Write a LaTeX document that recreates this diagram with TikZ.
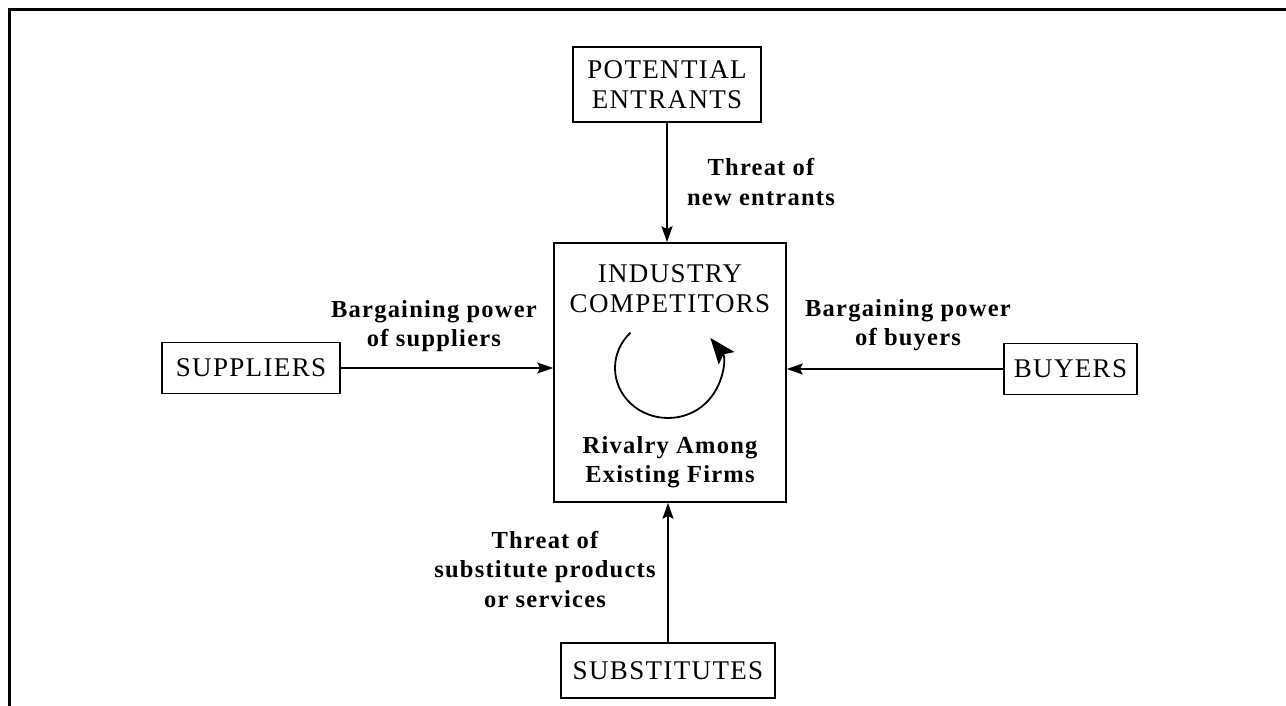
\documentclass[tikz,border=0pt]{standalone}
\usepackage{fontspec}
\setmainfont{Liberation Serif}
\usetikzlibrary{arrows.meta}
\newfontfamily\capsfont[LetterSpace=5]{Liberation Serif}
\newfontfamily\boldlab[LetterSpace=5]{Liberation Serif Bold}
\tikzset{
  box/.style={draw, line width=1.6pt, inner sep=0pt, align=center,
    font=\fontsize{27}{30}\capsfont},
  lab/.style={inner sep=0pt, align=center, font=\fontsize{24.5}{29.5}\boldlab},
  txt/.style={inner sep=0pt, align=center, font=\fontsize{27}{30}\capsfont},
  arr/.style={line width=1.8pt, -{Stealth[length=16pt,width=11pt,inset=3pt]}},
  frame/.style={line width=3pt}
}
\begin{document}
\begin{tikzpicture}[x=1pt,y=-1pt]
\useasboundingbox (0,0) rectangle (1286,706);
\draw[frame] (9,706) -- (9,10) -- (1286,10);
\node[box, minimum width=188pt, minimum height=75pt] (pe) at (667,84.5) {POTENTIAL\\ENTRANTS};
\node[box, minimum width=232pt, minimum height=259pt] (ic) at (670,372.5) {};
\node[txt] (ictext) at (670,289) {INDUSTRY\\COMPETITORS};
\node[lab] (rival) at (670,462) {Rivalry Among\\Existing Firms};
\node[box, minimum width=178pt, minimum height=51pt] (sup) at (251,368) {SUPPLIERS};
\node[box, minimum width=133pt, minimum height=51pt] (buy) at (1070.5,369) {BUYERS};
\node[box, minimum width=214pt, minimum height=55pt] (sub) at (668,670.5) {SUBSTITUTES};
\draw[arr] (pe.south) -- (pe.south |- ic.north);
\draw[arr] (sup.east) -- (sup.east -| ic.west);
\draw[arr] (buy.west) -- (buy.west -| ic.east);
\draw[arr] (sub.north) -- (sub.north |- ic.south);
\node[lab] (lpe) at (761,182) {Threat of\\new entrants};
\node[lab] (lsup) at (434,326) {Bargaining power\\of suppliers};
\node[lab] (lbuy) at (908,325) {Bargaining power\\of buyers};
\node[lab] (lsub) at (545,569) {Threat of\\substitute products\\or services};
\coordinate (rc) at (668,368);
\draw[line width=1.8pt, -{Stealth[length=26pt,width=20pt,inset=5pt]}]
  ([shift={(135:53pt and 50pt)}]rc) arc[start angle=135, end angle=397, x radius=53pt, y radius=50pt];
\end{tikzpicture}
\end{document}
